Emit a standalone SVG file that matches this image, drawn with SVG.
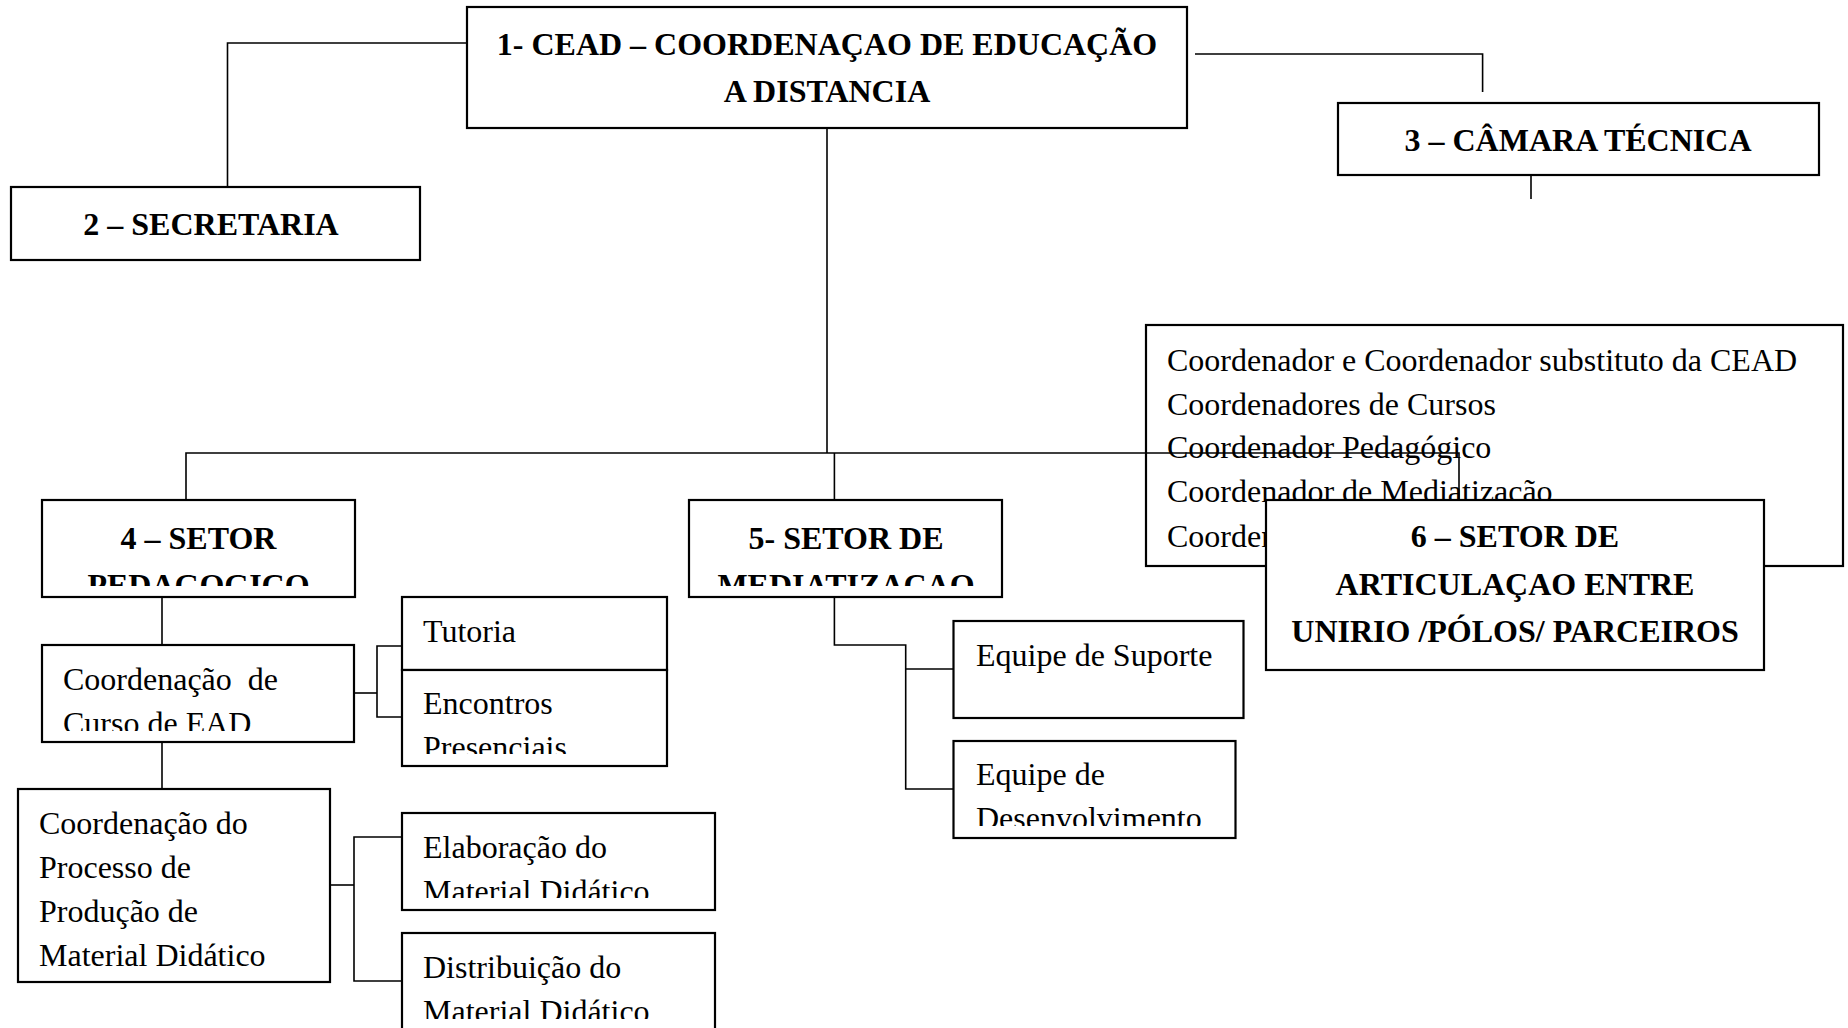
<svg xmlns="http://www.w3.org/2000/svg" width="1848" height="1028" viewBox="0 0 1848 1028">
<style>
.box{fill:#fff;stroke:#000;stroke-width:2.2}
.t{font-family:"Liberation Serif","Times New Roman",serif;font-size:32px;fill:#000}
.b{font-weight:bold;text-anchor:middle}
.c{fill:none;stroke:#000;stroke-width:1.6}
</style>
<defs>
<clipPath id="c4"><rect x="42" y="500" width="313" height="86"/></clipPath>
<clipPath id="c5"><rect x="689" y="500" width="313" height="86"/></clipPath>
<clipPath id="cc"><rect x="42" y="645" width="312" height="86"/></clipPath>
<clipPath id="ce"><rect x="402" y="670" width="265" height="84"/></clipPath>
<clipPath id="cel"><rect x="402" y="813" width="313" height="85"/></clipPath>
<clipPath id="cd"><rect x="402" y="933" width="313" height="86"/></clipPath>
<clipPath id="cdv"><rect x="953" y="741" width="283" height="85"/></clipPath>
</defs>
<rect width="1848" height="1028" fill="#fff"/>
<g id="n1">
<rect class="box" x="467" y="7" width="720" height="121"/>
<text class="t b" x="827" y="55">1- CEAD – COORDENAÇAO DE EDUCAÇÃO</text>
<text class="t b" x="827" y="101.5">A DISTANCIA</text>
</g>
<g id="n2">
<rect class="box" x="11" y="187" width="409" height="73"/>
<text class="t b" x="211" y="235">2 – SECRETARIA</text>
</g>
<g id="n3">
<rect class="box" x="1338" y="103" width="481" height="72"/>
<text class="t b" x="1578" y="150.5">3 – CÂMARA TÉCNICA</text>
</g>
<g id="lista">
<rect class="box" x="1146" y="325" width="697" height="241"/>
<text class="t" x="1167" y="371">Coordenador e Coordenador substituto da CEAD</text>
<text class="t" x="1167" y="415">Coordenadores de Cursos</text>
<text class="t" x="1167" y="458">Coordenador Pedagógico</text>
<text class="t" x="1167" y="502">Coordenador de Mediatização</text>
<text class="t" x="1167" y="547">Coordenador</text>
</g>
<g id="n4">
<rect class="box" x="42" y="500" width="313" height="97"/>
<text class="t b" x="198.5" y="549">4 – SETOR</text>
<text class="t b" x="198.5" y="596" clip-path="url(#c4)">PEDAGOGICO</text>
</g>
<g id="n5">
<rect class="box" x="689" y="500" width="313" height="97"/>
<text class="t b" x="846" y="549">5- SETOR DE</text>
<text class="t b" x="846" y="596" clip-path="url(#c5)">MEDIATIZAÇAO</text>
</g>
<g id="n6">
<rect class="box" x="1266" y="500" width="498" height="170"/>
<text class="t b" x="1515" y="547">6 – SETOR DE</text>
<text class="t b" x="1515" y="595">ARTICULAÇAO ENTRE</text>
<text class="t b" x="1515" y="642">UNIRIO /PÓLOS/ PARCEIROS</text>
</g>
<g id="curso">
<rect class="box" x="42" y="645" width="312" height="97"/>
<text class="t" x="63" y="690" xml:space="preserve">Coordenação  de</text>
<text class="t" x="63" y="734" clip-path="url(#cc)">Curso de EAD</text>
</g>
<g id="tutoria">
<rect class="box" x="402" y="597" width="265" height="73"/>
<text class="t" x="423" y="642">Tutoria</text>
</g>
<g id="encontros">
<rect class="box" x="402" y="670" width="265" height="96"/>
<text class="t" x="423" y="714">Encontros</text>
<text class="t" x="423" y="758" clip-path="url(#ce)">Presenciais</text>
</g>
<g id="processo">
<rect class="box" x="18" y="789" width="312" height="193"/>
<text class="t" x="39" y="834">Coordenação do</text>
<text class="t" x="39" y="878">Processo de</text>
<text class="t" x="39" y="922">Produção de</text>
<text class="t" x="39" y="966">Material Didático</text>
</g>
<g id="elaboracao">
<rect class="box" x="402" y="813" width="313" height="97"/>
<text class="t" x="423" y="858">Elaboração do</text>
<text class="t" x="423" y="902" clip-path="url(#cel)">Material Didático</text>
</g>
<g id="distribuicao">
<rect class="box" x="402" y="933" width="313" height="110"/>
<text class="t" x="423" y="978">Distribuição do</text>
<text class="t" x="423" y="1022" clip-path="url(#cd)">Material Didático</text>
</g>
<g id="suporte">
<rect class="box" x="953.5" y="621" width="290" height="97"/>
<text class="t" x="976" y="666">Equipe de Suporte</text>
</g>
<g id="desenvolvimento">
<rect class="box" x="953.5" y="741" width="282" height="97"/>
<text class="t" x="976" y="785">Equipe de</text>
<text class="t" x="976" y="829" clip-path="url(#cdv)">Desenvolvimento</text>
</g>
<g id="connectors">
<path class="c" d="M467,43 H227.5 V187"/>
<path class="c" d="M1195,54 H1482.6 V92"/>
<path class="c" d="M1531,175 V199"/>
<path class="c" d="M827,128 V453"/>
<path class="c" d="M186,500 V453 H1459 V500"/>
<path class="c" d="M834.4,453 V500"/>
<path class="c" d="M162,597 V645"/>
<path class="c" d="M354,693 H377"/>
<path class="c" d="M402,646 H377 V717 H402"/>
<path class="c" d="M162,742 V789"/>
<path class="c" d="M330,885 H354"/>
<path class="c" d="M402,837 H354 V981 H402"/>
<path class="c" d="M834.4,597 V645 H905.7 V789 H953.5"/>
<path class="c" d="M905.7,669 H953.5"/>
</g>
</svg>
